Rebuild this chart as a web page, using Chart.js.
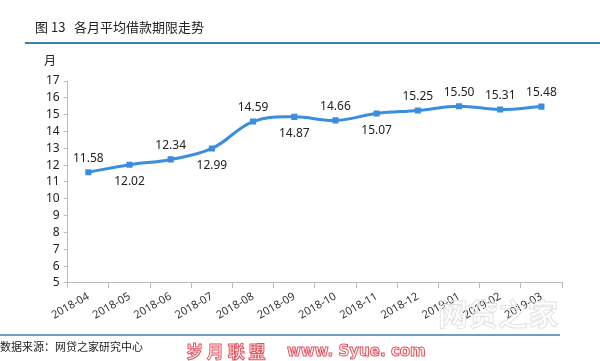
<!DOCTYPE html>
<html>
<head>
<meta charset="utf-8">
<script src="https://cdn.jsdelivr.net/npm/chart.js@4/dist/chart.umd.min.js"></script>
<style>
  html, body { margin: 0; padding: 0; background: #fff; }
  #wrap { position: relative; width: 600px; height: 361px; }
</style>
</head>
<body>
<div id="wrap"><canvas id="c" width="600" height="361"></canvas></div>
<script>
// 各月平均借款期限（月）
const months = ['2018-04', '2018-05', '2018-06', '2018-07', '2018-08', '2018-09',
  '2018-10', '2018-11', '2018-12', '2019-01', '2019-02', '2019-03'];
const avgTerm = [11.58, 12.02, 12.34, 12.99, 14.59, 14.87, 14.66, 15.07, 15.25, 15.50, 15.31, 15.48];
// 标签在点的上方(1)或下方(-1)
const labelSide = [1, -1, 1, -1, 1, -1, 1, -1, 1, 1, 1, 1];

const cjk = '"Noto Sans CJK SC", "Noto Sans", sans-serif';
const BLUE = '#3b8de0';

// 标题、分隔线、来源等装饰
const frame = {
  id: 'frame',
  afterDraw(chart) {
    const c = chart.ctx;
    c.save();
    c.fillStyle = '#222';
    c.font = '13px ' + cjk;
    c.textBaseline = 'middle';
    c.fillText('图 13   各月平均借款期限走势', 35, 27);
    c.strokeStyle = '#3c7fa8';
    c.lineWidth = 2;
    c.beginPath(); c.moveTo(25, 43); c.lineTo(600, 43); c.stroke();
    c.lineWidth = 1.5;
    c.beginPath(); c.moveTo(0, 335); c.lineTo(560, 335); c.stroke();
    c.font = '12px ' + cjk;
    c.fillStyle = '#222';
    c.fillText('月', 44, 60);
    c.font = '11px ' + cjk;
    c.fillText('数据来源：网贷之家研究中心', 0, 347);
    // 水印
    c.font = 'bold 17px ' + cjk;
    c.strokeStyle = '#e8505a';
    c.lineWidth = 1;
    c.strokeText('岁 月 联 盟', 186, 352);
    c.font = 'bold 15px "DejaVu Sans", sans-serif';
    c.strokeText('www. Syue. com', 287, 352);
    c.font = 'bold 30px ' + cjk;
    c.strokeStyle = '#e2e2e2';
    c.strokeText('网贷之家', 438, 314);
    c.restore();
  }
};

// 数据标签
const valueLabels = {
  id: 'valueLabels',
  afterDatasetsDraw(chart) {
    const c = chart.ctx;
    const meta = chart.getDatasetMeta(0);
    c.save();
    c.font = '12px "Noto Sans", sans-serif';
    c.fillStyle = '#222';
    c.textAlign = 'center';
    c.textBaseline = 'middle';
    meta.data.forEach((pt, i) => {
      const dy = labelSide[i] > 0 ? -14 : 17;
      c.fillText(avgTerm[i].toFixed(2), pt.x, pt.y + dy);
    });
    c.restore();
  }
};

new Chart(document.getElementById('c').getContext('2d'), {
  type: 'line',
  data: {
    labels: months,
    datasets: [{
      data: avgTerm,
      borderColor: BLUE,
      backgroundColor: BLUE,
      borderWidth: 3,
      tension: 0.4,
      pointRadius: 2.2,
      pointStyle: 'rect',
      fill: false
    }]
  },
  options: {
    responsive: false,
    animation: false,
    layout: { padding: { top: 81, right: 38, bottom: 37, left: 42 } },
    plugins: { legend: { display: false }, tooltip: { enabled: false } },
    scales: {
      x: {
        offset: true,
        grid: { display: true, offset: true, drawOnChartArea: false, color: '#bbb', tickLength: 5 },
        border: { color: '#bbb' },
        ticks: { color: '#333', font: { size: 11, family: '"Noto Sans", sans-serif' }, minRotation: 30, maxRotation: 30, padding: 2, autoSkip: false }
      },
      y: {
        min: 5, max: 17,
        ticks: { stepSize: 1, color: '#222', font: { size: 12, family: '"Noto Sans", sans-serif' }, padding: 4, autoSkip: false },
        grid: { display: true, drawOnChartArea: false, color: '#bbb', tickLength: 4 },
        border: { color: '#bbb' }
      }
    }
  },
  plugins: [frame, valueLabels]
});
</script>
</body>
</html>
